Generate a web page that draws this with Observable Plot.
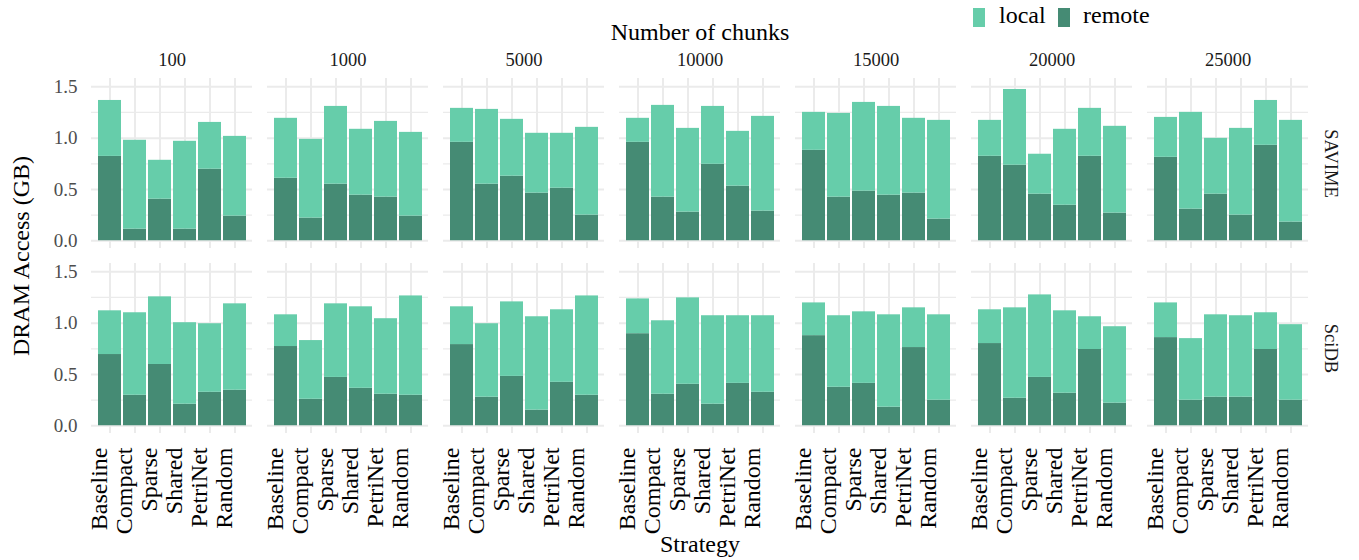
<!DOCTYPE html>
<html>
<head>
<meta charset="utf-8">
<script src="https://cdn.jsdelivr.net/npm/d3@7"></script>
<script src="https://cdn.jsdelivr.net/npm/@observablehq/plot@0.6"></script>
<style>
  body { margin: 0; background: #fff; font-family: "Liberation Serif", serif; }
  #wrap { position: relative; width: 1359px; height: 560px; overflow: hidden; }
  #wrap svg { position: absolute; left: 0; top: 0; }
  .title { position: absolute; font-size: 24px; line-height: 24px; color: #000; white-space: nowrap; }
  .key { position: absolute; width: 12px; height: 19px; }
</style>
</head>
<body>
<div id="wrap"></div>
<script>
// Strategies compared inside every panel
const strategies = ["Baseline", "Compact", "Sparse", "Shared", "PetriNet", "Random"];
// Panel columns: number of chunks
const chunks = ["100", "1000", "5000", "10000", "15000", "20000", "25000"];
// Panel rows: array DBMS
const systems = ["SAVIME", "SciDB"];
const parts = ["local", "remote"];
const yTicks = [0, 0.5, 1, 1.5];
const yMinor = [0.25, 0.75, 1.25];

// DRAM access (GB), one row per chunk count, one value per strategy
const savimeRemote = [
  [0.822, 0.113, 0.405, 0.113, 0.697, 0.240],
  [0.609, 0.221, 0.551, 0.444, 0.425, 0.240],
  [0.959, 0.551, 0.629, 0.464, 0.512, 0.250],
  [0.959, 0.425, 0.279, 0.745, 0.532, 0.289],
  [0.881, 0.425, 0.483, 0.444, 0.464, 0.211],
  [0.823, 0.736, 0.454, 0.346, 0.823, 0.269],
  [0.813, 0.308, 0.454, 0.250, 0.930, 0.182]
];
const savimeLocal = [
  [0.545, 0.866, 0.379, 0.856, 0.456, 0.777],
  [0.584, 0.767, 0.758, 0.642, 0.738, 0.816],
  [0.331, 0.729, 0.554, 0.583, 0.535, 0.855],
  [0.234, 0.894, 0.816, 0.564, 0.534, 0.923],
  [0.370, 0.816, 0.865, 0.865, 0.729, 0.962],
  [0.350, 0.738, 0.389, 0.740, 0.467, 0.846],
  [0.389, 0.943, 0.544, 0.845, 0.437, 0.991]
];
const scidbRemote = [
  [0.694, 0.297, 0.597, 0.210, 0.326, 0.346],
  [0.772, 0.258, 0.471, 0.365, 0.307, 0.297],
  [0.791, 0.278, 0.481, 0.152, 0.423, 0.297],
  [0.897, 0.307, 0.404, 0.210, 0.413, 0.326],
  [0.878, 0.375, 0.413, 0.181, 0.762, 0.249],
  [0.801, 0.268, 0.471, 0.317, 0.743, 0.220],
  [0.859, 0.249, 0.278, 0.278, 0.743, 0.249]
];
const scidbLocal = [
  [0.426, 0.804, 0.659, 0.794, 0.668, 0.842],
  [0.309, 0.572, 0.717, 0.794, 0.736, 0.968],
  [0.368, 0.716, 0.726, 0.910, 0.707, 0.968],
  [0.339, 0.716, 0.842, 0.862, 0.659, 0.746],
  [0.319, 0.697, 0.697, 0.900, 0.387, 0.832],
  [0.329, 0.881, 0.804, 0.803, 0.319, 0.745],
  [0.338, 0.600, 0.803, 0.794, 0.358, 0.736]
];

const partColors = ["#66CDAA", "#458B74"];
const gridColor = "#EBEBEB";

// Long table: remote first so it sits at the bottom of each stack
const table = [];
systems.forEach((system, si) => {
  const remote = si === 0 ? savimeRemote : scidbRemote;
  const local = si === 0 ? savimeLocal : scidbLocal;
  chunks.forEach((chunk, ci) => {
    strategies.forEach((strategy, k) => {
      table.push({system, chunk, strategy, part: "remote", value: remote[ci][k]});
      table.push({system, chunk, strategy, part: "local", value: local[ci][k]});
    });
  });
});

const chart = Plot.plot({
  width: 1359,
  height: 560,
  marginLeft: 88,
  marginRight: 47,
  marginTop: 78,
  marginBottom: 126.6,
  style: {fontFamily: "Liberation Serif, serif", background: "transparent"},
  fx: {domain: chunks, paddingInner: 0.0847, paddingOuter: 0, label: null},
  fy: {domain: systems, paddingInner: 0.079, paddingOuter: 0, label: null},
  x: {domain: strategies, paddingInner: 0.1, paddingOuter: 0.15, label: null},
  y: {domain: [-0.0755, 1.581], label: null},
  color: {domain: parts, range: partColors},
  marks: [
    Plot.gridY(yMinor, {stroke: gridColor, strokeOpacity: 1, strokeWidth: 1.2}),
    Plot.gridY(yTicks, {stroke: gridColor, strokeOpacity: 1, strokeWidth: 2}),
    Plot.gridX(strategies, {stroke: gridColor, strokeOpacity: 1, strokeWidth: 2}),
    Plot.barY(table, {
      fx: "chunk", fy: "system", x: "strategy", y: "value",
      fill: "part", order: ["remote", "local"]
    }),
    Plot.axisY(yTicks, {
      anchor: "left", tickSize: 0, tickPadding: 14, fontSize: 19,
      fill: "#4D4D4D", tickFormat: d => d.toFixed(1), label: null
    }),
    Plot.axisX({
      anchor: "bottom", facetAnchor: "bottom", tickSize: 0, tickPadding: 14,
      tickRotate: -90, lineAnchor: "middle", dx: -11,
      fontSize: 24, fill: "#000", label: null
    }),
    Plot.axisFx({
      anchor: "top", tickSize: 0, tickPadding: 13, fontSize: 18.5,
      fill: "#1A1A1A", label: null
    }),
    Plot.axisFy({
      anchor: "right", tickSize: 0, tickPadding: 22, tickRotate: 90,
      lineAnchor: "middle", textAnchor: "middle",
      fontSize: 18.5, fill: "#1A1A1A", label: null
    })
  ]
});

const wrap = document.getElementById("wrap");
wrap.appendChild(chart);

function addText(txt, css) {
  const d = document.createElement("div");
  d.className = "title";
  d.textContent = txt;
  Object.assign(d.style, css);
  wrap.appendChild(d);
  return d;
}

// Axis titles
addText("Number of chunks", {left: "700px", top: "20px", transform: "translateX(-50%)"});
addText("Strategy", {left: "700px", top: "532px", transform: "translateX(-50%)"});
addText("DRAM Access (GB)", {left: "21.4px", top: "256px", transform: "translate(-50%, -50%) rotate(-90deg)"});

// Legend
[["local", 973, 999], ["remote", 1058, 1083]].forEach(([name, kx, tx], i) => {
  const k = document.createElement("div");
  k.className = "key";
  Object.assign(k.style, {left: kx + "px", top: "8px", background: partColors[i]});
  wrap.appendChild(k);
  addText(name, {left: tx + "px", top: "3.4px"});
});
</script>
</body>
</html>
